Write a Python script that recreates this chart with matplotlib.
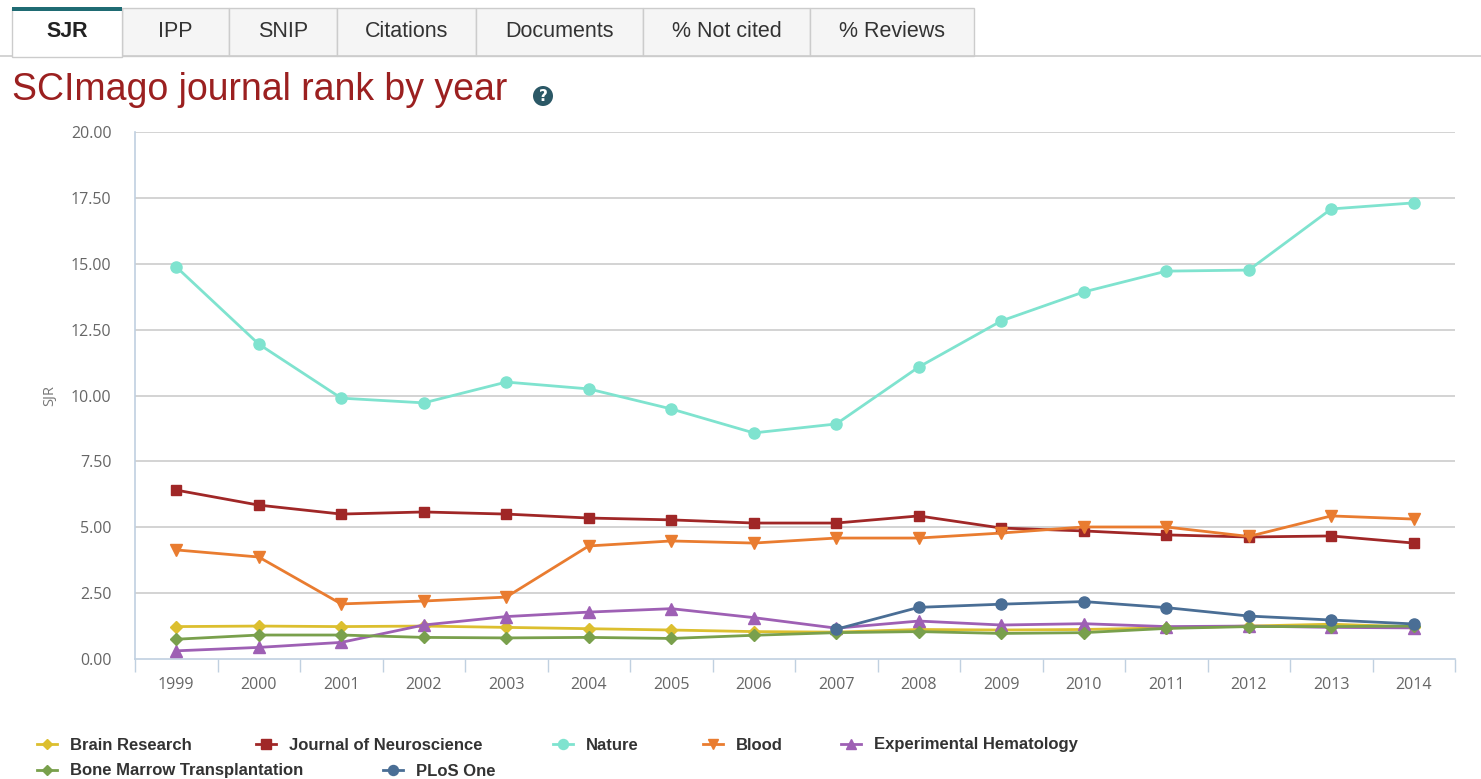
import matplotlib
matplotlib.use("Agg")
import matplotlib.pyplot as plt
from matplotlib.patches import Rectangle, Circle

years = ["1999", "2000", "2001", "2002", "2003", "2004", "2005", "2006",
         "2007", "2008", "2009", "2010", "2011", "2012", "2013", "2014"]

brain_research = [1.23, 1.25, 1.23, 1.25, 1.20, 1.15, 1.10, 1.04,
                  1.02, 1.12, 1.10, 1.12, 1.18, 1.25, 1.32, 1.22]
journal_neurosci = [6.41, 5.84, 5.50, 5.58, 5.50, 5.35, 5.28, 5.16,
                    5.16, 5.43, 4.97, 4.86, 4.71, 4.63, 4.67, 4.40]
nature = [14.88, 11.95, 9.90, 9.72, 10.51, 10.25, 9.49, 8.58,
          8.92, 11.08, 12.83, 13.93, 14.72, 14.76, 17.08, 17.31]
blood = [4.14, 3.87, 2.09, 2.20, 2.35, 4.29, 4.48, 4.40,
         4.59, 4.59, 4.78, 5.01, 5.01, 4.65, 5.43, 5.31]
exp_hematology = [0.31, 0.44, 0.63, 1.29, 1.61, 1.78, 1.91, 1.57,
                  1.17, 1.44, 1.29, 1.34, 1.23, 1.25, 1.20, 1.18]
bone_marrow = [0.75, 0.91, 0.91, 0.82, 0.80, 0.82, 0.78, 0.90,
               1.00, 1.04, 0.97, 1.00, 1.16, 1.23, 1.23, 1.25]
plos_one = [None, None, None, None, None, None, None, None,
            1.13, 1.96, 2.08, 2.18, 1.95, 1.63, 1.48, 1.33]

series_names = ["Brain Research", "Journal of Neuroscience", "Nature", "Blood",
                "Experimental Hematology", "Bone Marrow Transplantation", "PLoS One"]
series_values = [brain_research, journal_neurosci, nature, blood,
                 exp_hematology, bone_marrow, plos_one]
colors = ["#dcbf2f", "#a02727", "#7fe3cf", "#e97c30", "#9e60b4", "#79a04c", "#4a6e95"]
markers = ["D", "s", "o", "v", "^", "D", "o"]
msizes = [6, 7.5, 8, 8, 8, 6, 8]

tabs = ["SJR", "IPP", "SNIP", "Citations", "Documents", "% Not cited", "% Reviews"]
tab_edges = [12, 122, 229, 337, 476, 643, 810, 974]

W, H = 1481, 779
fig = plt.figure(figsize=(W / 100, H / 100), dpi=100)

L, R, T, B = 135, 1455, 132, 659
ax = fig.add_axes([L / W, 1 - B / H, (R - L) / W, (B - T) / H])

xs = list(range(len(years)))
for i, (name, vals) in enumerate(zip(series_names, series_values)):
    px = [x for x, v in zip(xs, vals) if v is not None]
    py = [v for v in vals if v is not None]
    ax.plot(px, py, color=colors[i], lw=2.0, marker=markers[i], ms=msizes[i],
            mec=colors[i], mfc=colors[i], zorder=3 + i, clip_on=False)

ax.set_xlim(-0.5, len(years) - 0.5)
ax.set_ylim(0, 20)
yt = [0, 2.5, 5, 7.5, 10, 12.5, 15, 17.5, 20]
ax.set_yticks(yt)
ax.set_yticklabels([f"{v:.2f}" for v in yt])
ax.set_xticks(xs)
ax.set_xticklabels(years)
ax.set_xticks([x - 0.5 for x in xs] + [len(years) - 0.5], minor=True)
ax.tick_params(axis="x", which="major", length=0, pad=13, labelsize=11.5, labelcolor="#666666")
ax.tick_params(axis="x", which="minor", length=9.5, width=1, color="#c0d0e0")
ax.tick_params(axis="y", length=0, pad=17, labelsize=11.5, labelcolor="#666666")
for lab in ax.get_xticklabels() + ax.get_yticklabels():
    lab.set_family(["Open Sans", "DejaVu Sans"])

for v in yt[1:]:
    ax.axhline(v, color="#cccccc", lw=1.2, zorder=1)
for s in ["top", "right"]:
    ax.spines[s].set_visible(False)
for s in ["left", "bottom"]:
    ax.spines[s].set_color("#c0d0e0")
    ax.spines[s].set_linewidth(1.2)
ax.set_ylabel("SJR", color="#777777", fontsize=10.5, labelpad=10,
              family=["Open Sans", "DejaVu Sans"])

# overlay for page decorations (tabs, title, legend)
ov = fig.add_axes([0, 0, 1, 1], zorder=-1)
ov.set_xlim(0, W)
ov.set_ylim(H, 0)
ov.axis("off")
ov.patch.set_alpha(0)

ov.plot([0, W], [56, 56], color="#cccccc", lw=1.2)
narrow = ["Liberation Sans Narrow", "Liberation Sans", "DejaVu Sans"]
for i, t in enumerate(tabs):
    x0, x1 = tab_edges[i], tab_edges[i + 1]
    if i == 0:
        ov.add_patch(Rectangle((x0, 8), x1 - x0, 49, facecolor="white",
                               edgecolor="#cccccc", lw=1.0, zorder=2))
        ov.add_patch(Rectangle((x0, 7), x1 - x0, 4, facecolor="#1f6b73",
                               edgecolor="none", zorder=3))
        ov.text((x0 + x1) / 2, 31, t, ha="center", va="center", fontsize=15.5,
                fontweight="bold", color="#222222", family=narrow, zorder=4)
    else:
        ov.add_patch(Rectangle((x0, 8), x1 - x0, 48, facecolor="#f5f5f5",
                               edgecolor="#cccccc", lw=1.0, zorder=1))
        ov.text((x0 + x1) / 2, 31, t, ha="center", va="center", fontsize=15.5,
                color="#333333", family=narrow, zorder=4)

ov.text(12, 90, "SCImago journal rank by year", ha="left", va="center",
        fontsize=27, color="#9b2020", family=narrow)
ov.add_patch(Circle((543, 96), 10, facecolor="#2b5866", edgecolor="none"))
ov.text(543, 96.5, "?", ha="center", va="center", fontsize=11, fontweight="bold",
        color="white")

leg_pos = [(47, 744), (266, 744), (563, 744), (713, 744), (851, 744), (47, 770), (393, 770)]
for i, name in enumerate(series_names):
    x, y = leg_pos[i]
    ov.plot([x - 10, x + 10], [y, y], color=colors[i], lw=2.0)
    ov.plot([x], [y], marker=markers[i], ms=msizes[i] * 0.9, color=colors[i], lw=0)
    ov.text(x + 23, y + 1, name, ha="left", va="center", fontsize=12,
            fontweight="bold", color="#333333", family=narrow)

fig.savefig("out.png", dpi=100, facecolor="white")
